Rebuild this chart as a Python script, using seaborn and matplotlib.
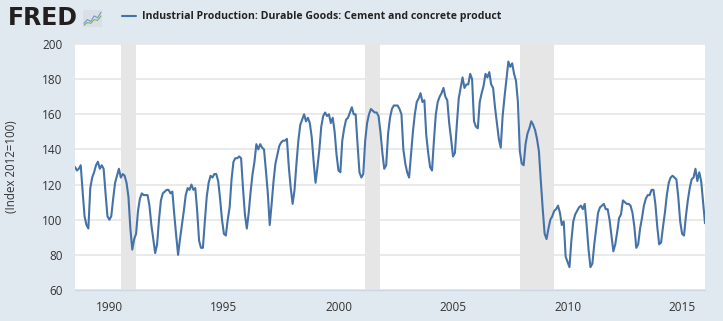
import numpy as np
import pandas as pd
import matplotlib
matplotlib.use("Agg")
import matplotlib.pyplot as plt
import seaborn as sns

# ---------------- data (monthly, Jul 1988 - Jan 2016) ----------------
series_name = "Industrial Production: Durable Goods: Cement and concrete product"
y_label = "(Index 2012=100)"
start_year, start_month = 1988, 7

y1988 = [130, 128, 129, 131, 116, 102]  # Jul-Dec
y1989 = [97, 95, 118, 124, 127, 131, 133, 129, 131, 129, 115, 102]
y1990 = [100, 102, 112, 121, 125, 129, 124, 126, 125, 121, 113, 95]
y1991 = [83, 89, 92, 105, 112, 115, 114, 114, 114, 108, 97, 89]
y1992 = [81, 86, 100, 111, 115, 116, 117, 117, 115, 116, 103, 91]
y1993 = [80, 89, 97, 105, 114, 118, 117, 120, 117, 118, 105, 88]
y1994 = [84, 84, 99, 113, 121, 125, 124, 126, 126, 122, 112, 100]
y1995 = [92, 91, 100, 107, 123, 133, 135, 135, 136, 135, 118, 103]
y1996 = [95, 104, 116, 126, 133, 143, 140, 143, 141, 140, 128, 115]
y1997 = [97, 109, 122, 132, 137, 142, 144, 145, 145, 146, 130, 118]
y1998 = [109, 117, 132, 145, 154, 157, 160, 156, 158, 155, 147, 133]
y1999 = [121, 130, 140, 153, 159, 161, 159, 160, 155, 158, 150, 137]
y2000 = [128, 127, 145, 152, 157, 158, 161, 164, 160, 160, 143, 127]
y2001 = [124, 126, 145, 155, 160, 163, 162, 161, 161, 159, 150, 138]
y2002 = [129, 131, 149, 158, 163, 165, 165, 165, 163, 160, 140, 132]
y2003 = [127, 124, 137, 150, 160, 167, 169, 172, 167, 168, 148, 138]
y2004 = [130, 128, 145, 160, 167, 170, 172, 175, 170, 168, 155, 146]
y2005 = [136, 138, 154, 169, 175, 181, 175, 177, 177, 183, 180, 156]
y2006 = [153, 152, 167, 172, 176, 183, 181, 184, 177, 175, 164, 155]
y2007 = [146, 141, 159, 170, 180, 190, 187, 189, 183, 179, 167, 139]
y2008 = [132, 131, 143, 149, 152, 156, 154, 151, 146, 139, 122, 106]
y2009 = [92, 89, 95, 100, 102, 105, 106, 108, 104, 97, 99, 79]
y2010 = [76, 73, 88, 99, 103, 105, 107, 108, 106, 109, 97, 83]
y2011 = [73, 75, 86, 95, 104, 107, 108, 109, 106, 106, 100, 91]
y2012 = [82, 86, 93, 101, 103, 111, 110, 109, 109, 108, 104, 96]
y2013 = [84, 86, 95, 101, 108, 112, 114, 114, 117, 117, 109, 96]
y2014 = [86, 87, 96, 104, 114, 121, 124, 125, 124, 123, 113, 99]
y2015 = [92, 91, 102, 111, 118, 123, 124, 129, 122, 127, 122, 110]
y2016 = [98]  # Jan

# recessions (start, end) as fractional years
recession_starts = [1990 + 6 / 12, 2001 + 2 / 12, 2007 + 11 / 12]
recession_ends = [1991 + 2 / 12, 2001 + 10 / 12, 2009 + 5 / 12]

x_ticks = [1990, 1995, 2000, 2005, 2010, 2015]
y_ticks = [60, 80, 100, 120, 140, 160, 180, 200]

# ---------------- build frame ----------------
values = (y1988 + y1989 + y1990 + y1991 + y1992 + y1993 + y1994 + y1995 + y1996
          + y1997 + y1998 + y1999 + y2000 + y2001 + y2002 + y2003 + y2004 + y2005
          + y2006 + y2007 + y2008 + y2009 + y2010 + y2011 + y2012 + y2013 + y2014
          + y2015 + y2016)
t = start_year + (start_month - 1 + np.arange(len(values))) / 12.0
df = pd.DataFrame({"t": t, "value": values})

# ---------------- style ----------------
sns.set_theme(style="white")
plt.rcParams["font.family"] = ["Open Sans", "DejaVu Sans"]

W, H = 723, 321
fig = plt.figure(figsize=(W / 100, H / 100), dpi=100)
bg = "#e1e9f0"
fig.patch.set_facecolor(bg)

ax = fig.add_axes([75 / W, 31 / H, 630 / W, 246 / H])
ax.set_facecolor("white")

for s, e in zip(recession_starts, recession_ends):
    ax.axvspan(s, e, color="#e6e6e6", lw=0, zorder=0.5)

sns.lineplot(data=df, x="t", y="value", ax=ax, color="#4572a7", lw=1.5,
             label=series_name, zorder=3)

ax.set_xlim(t[0], t[-1])
ax.set_ylim(60, 200)
ax.set_xticks(x_ticks)
ax.set_xticklabels([str(v) for v in x_ticks])
ax.set_yticks(y_ticks)
ax.set_yticklabels([str(v) for v in y_ticks])

ax.yaxis.grid(True, color="#e6e6e6", lw=1.2)
ax.xaxis.grid(False)
for g in ax.get_ygridlines():
    g.set_zorder(0.6)

for side in ["top", "right", "left"]:
    ax.spines[side].set_visible(False)
ax.spines["bottom"].set_color("#ccd6eb")
ax.spines["bottom"].set_linewidth(1)

ax.tick_params(axis="x", length=5, width=1, color="#ccd6eb", labelcolor="#333333",
               labelsize=8.5, pad=3)
ax.tick_params(axis="y", length=0, labelcolor="#333333", labelsize=8.5, pad=9)

ax.set_xlabel("")
ax.set_ylabel(y_label, color="#333333", fontsize=8.3)
ax.yaxis.set_label_coords(-0.09, 0.5)

leg = ax.legend(loc="center left", bbox_to_anchor=(122 / W, 1 - 17 / H),
                bbox_transform=fig.transFigure, frameon=False,
                prop={"weight": "bold", "size": 7.55}, handlelength=1.35,
                handletextpad=0.6, borderaxespad=0, borderpad=0)
for txt in leg.get_texts():
    txt.set_color("#222222")

# FRED logo
fig.text(8 / W, 1 - 18 / H, "FRED", fontsize=17, fontweight="heavy",
         family="DejaVu Sans", color="#231f20", va="center", ha="left")
icon = fig.add_axes([83 / W, 1 - 27 / H, 19 / W, 17 / H])
icon.set_facecolor("#d9dfe4")
icon.plot([0, 1, 2, 3, 4, 5], [1, 2, 1.5, 3, 2.5, 4], color="#6a9bd1", lw=0.8)
icon.plot([0, 1, 2, 3, 4, 5], [0.5, 1.2, 1.0, 2.0, 1.8, 3.0], color="#7fb069", lw=0.8)
icon.set_xlim(-0.3, 5.3)
icon.set_ylim(0, 4.6)
icon.set_xticks([])
icon.set_yticks([])
for sp in icon.spines.values():
    sp.set_visible(False)

fig.savefig("out.png", dpi=100, facecolor=bg)
